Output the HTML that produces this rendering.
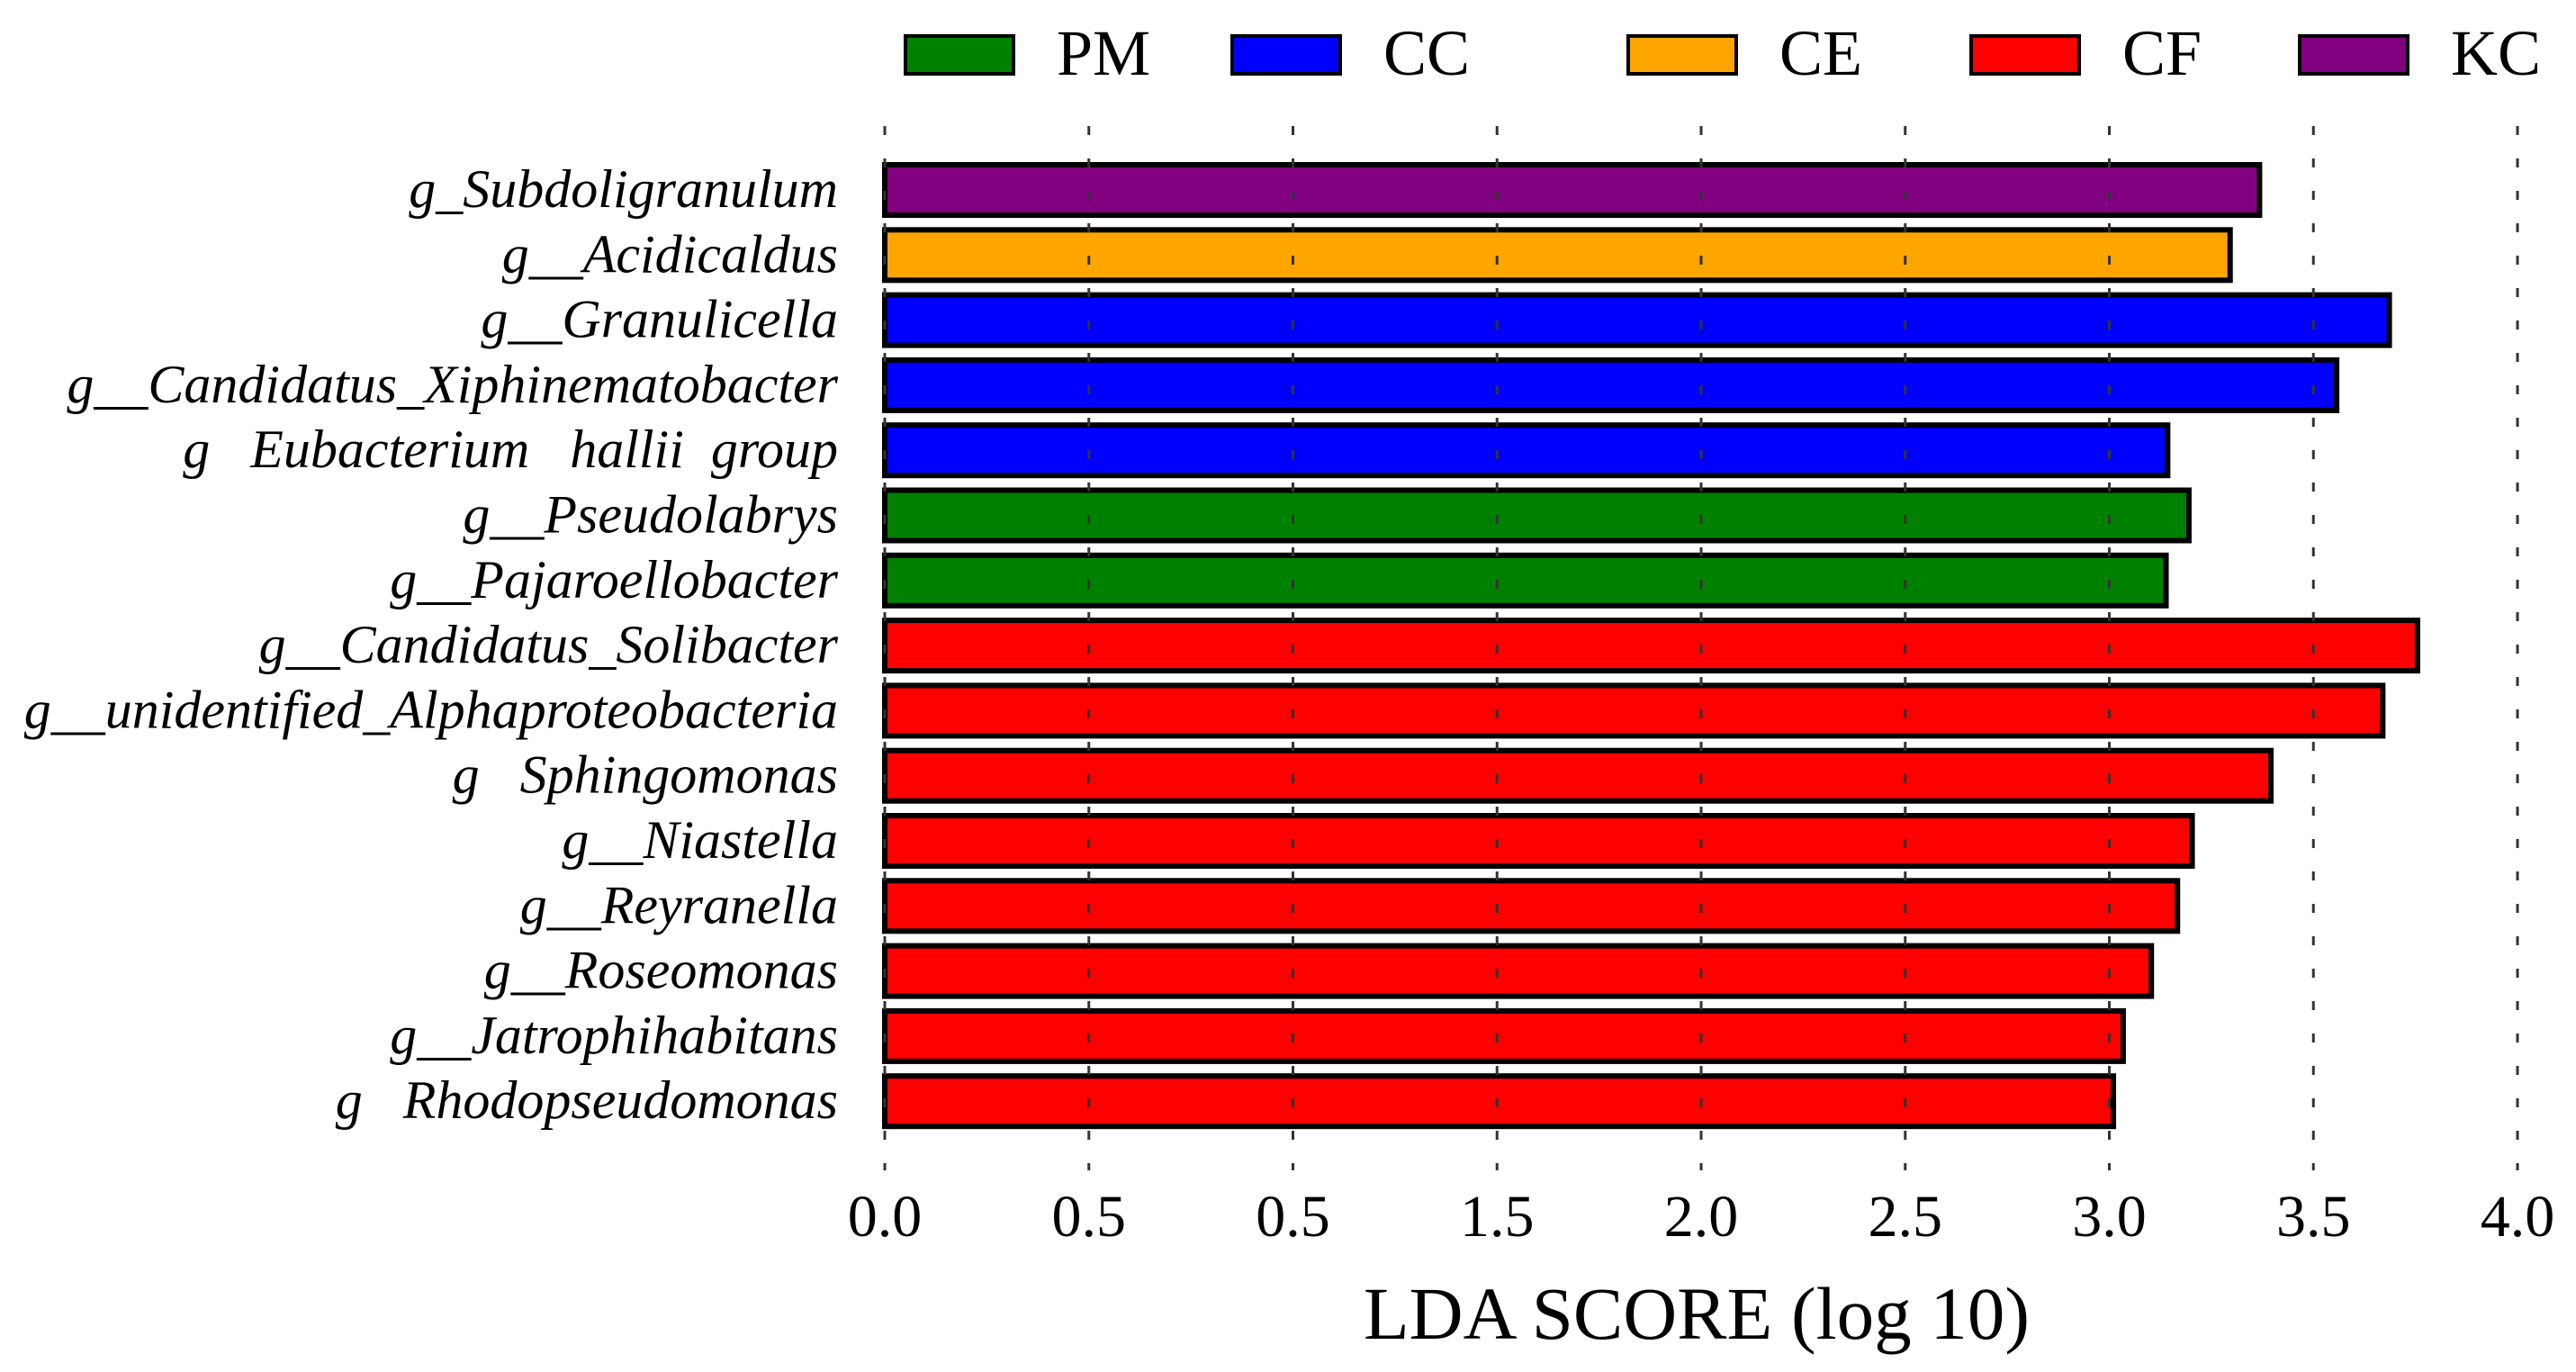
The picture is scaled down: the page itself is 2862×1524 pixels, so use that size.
<!DOCTYPE html>
<html><head><meta charset="utf-8"><style>
html,body{margin:0;padding:0;background:#fff;}
svg{display:block;}
text{font-family:"Liberation Serif",serif;fill:#000;}
</style></head><body>
<svg id="chart" width="2862" height="1524" viewBox="0 0 2862 1524">
<g id="legend"></g>
<g id="bars"></g>
<g id="grid"></g>
<g id="labels"></g>
<g id="xticks"></g>
<text x="1885" y="1487" font-size="83" text-anchor="middle">LDA SCORE (log 10)</text>
</svg>
<script>
const categories = ["g_Subdoligranulum","g__Acidicaldus","g__Granulicella","g__Candidatus_Xiphinematobacter","g   Eubacterium   hallii  group","g__Pseudolabrys","g__Pajaroellobacter","g__Candidatus_Solibacter","g__unidentified_Alphaproteobacteria","g   Sphingomonas","g__Niastella","g__Reyranella","g__Roseomonas","g__Jatrophihabitans","g   Rhodopseudomonas"];
const values = [3.368,3.296,3.686,3.557,3.143,3.195,3.139,3.755,3.67,3.396,3.203,3.167,3.103,3.034,3.01];
const groups = ["KC","CE","CC","CC","CC","PM","PM","CF","CF","CF","CF","CF","CF","CF","CF"];
const groupNames = ["PM","CC","CE","CF","KC"];
const groupColors = {PM:"#008000",CC:"#0000ff",CE:"#ffa500",CF:"#ff0000",KC:"#800080"};
const tickValues = [0,0.5,1.0,1.5,2.0,2.5,3.0,3.5,4.0];
const tickLabels = ["0.0","0.5","0.5","1.5","2.0","2.5","3.0","3.5","4.0"];

const NS="http://www.w3.org/2000/svg";
const x0=983, xPerUnit=453.5;
function xs(v){return x0+v*xPerUnit;}
const rowTop=180, rowStep=72.3, barH=62;
function ys(i){return rowTop+i*rowStep;}
function mk(tag,attrs,parent){const e=document.createElementNS(NS,tag);for(const k in attrs)e.setAttribute(k,attrs[k]);parent.appendChild(e);return e;}

const barsG=document.getElementById('bars');
values.forEach((v,i)=>{
  const r=mk('rect',{x:xs(0),y:ys(i)+3,width:xs(v)-xs(0),height:barH-6,fill:groupColors[groups[i]],stroke:"#000","stroke-width":6},barsG);
  
  
});
const labG=document.getElementById('labels');
categories.forEach((c,i)=>{
  const t=mk('text',{x:931,y:ys(i)+barH/2+19,"font-size":60,"font-style":"italic","text-anchor":"end","xml:space":"preserve"},labG);
  t.style.whiteSpace="pre";
  t.textContent=c;
  
  
});
const gridG=document.getElementById('grid');
const tickG=document.getElementById('xticks');
tickValues.forEach((v,i)=>{
  const l=mk('line',{x1:xs(v),x2:xs(v),y1:140,y2:1300,stroke:"#333","stroke-width":3,"stroke-dasharray":"10,26"},gridG);
  
  
  const t=mk('text',{x:xs(v),y:1373,"font-size":66,"text-anchor":"middle"},tickG);
  t.textContent=tickLabels[i];
  
  
});
const legG=document.getElementById('legend');
const legBoxX=[1006,1369,1809,2190,2555];
groupNames.forEach((g,i)=>{
  const r=mk('rect',{x:legBoxX[i],y:40,width:120,height:42,fill:groupColors[g],stroke:"#000","stroke-width":4},legG);
  
  
  const t=mk('text',{x:legBoxX[i]+168,y:83,"font-size":72},legG);
  t.textContent=g;
  
  
});
</script>
</body></html>
